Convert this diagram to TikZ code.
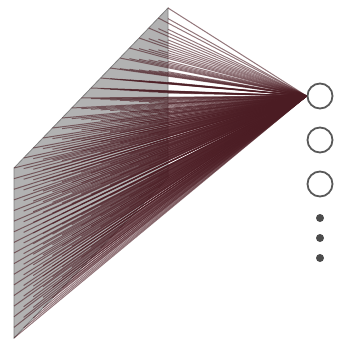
\documentclass[tikz,border=0pt]{standalone}
\begin{document}
\begin{tikzpicture}[x=1pt,y=-1pt,
  neuron/.style={circle,draw=black!65,line width=1.8pt,minimum size=25pt,inner sep=0pt,fill=white},
  dotnode/.style={circle,fill=black!70,minimum size=8pt,inner sep=0pt},
  conn/.style={draw={rgb,255:red,75;green,28;blue,35},line width=1pt,opacity=0.6}]
\useasboundingbox (0,0) rectangle (337,349);
% receptive field plane
\coordinate (A) at (168,8);
\coordinate (B) at (14,168);
\coordinate (C) at (14,338);
\coordinate (D) at (168,178);
\fill[black!30] (A) -- (B) -- (C) -- (D) -- cycle;
\draw[black!50,line width=0.8pt] (A) -- (B) -- (C) -- (D) -- cycle;
\node[neuron] (n1) at (320,96) {};
\node[neuron] (n2) at (320,140) {};
\node[neuron] (n3) at (320,184) {};
\node[dotnode] (d1) at (320,218) {};
\node[dotnode] (d2) at (320,238) {};
\node[dotnode] (d3) at (320,258) {};
\foreach \i in {0,...,16}{
  \foreach \j in {0,...,16}{
    \pgfmathsetmacro{\gx}{14+154*\i/16}
    \pgfmathsetmacro{\gy}{168-160*\i/16+170*\j/16}
    \coordinate (g-\i-\j) at (\gx,\gy);
    \draw[conn] (g-\i-\j) -- (n1.west);
  }
}
\end{tikzpicture}
\end{document}
